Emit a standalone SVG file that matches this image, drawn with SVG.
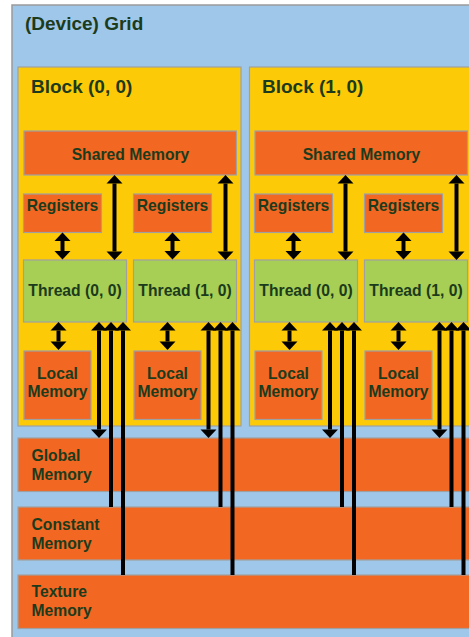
<svg xmlns="http://www.w3.org/2000/svg" width="469" height="637" viewBox="0 0 469 637">
<style>
text{font-family:"Liberation Sans",Arial,sans-serif;font-weight:bold;fill:#1c3b1c}
.t{font-size:19px}
.s{font-size:15.7px}
.m{text-anchor:middle}
.grid{fill:#9fc7e9;stroke:#9a9a9a;stroke-width:1.5}
.blk{fill:#fdca08;stroke:#a0a0a0;stroke-width:1.2}
.mem{fill:#f26722;stroke:#a0a0a0;stroke-width:1.2}
.thr{fill:#a7cf55;stroke:#a0a0a0;stroke-width:1.2}
.a line{stroke:#000;stroke-width:4}
</style>
<defs>
<marker id="ah" markerUnits="userSpaceOnUse" markerWidth="10" markerHeight="18" refX="0" refY="0" orient="auto-start-reverse" overflow="visible">
<path d="M0,-8 L8.5,0 L0,8 z" fill="#000"/>
</marker>
</defs>
<g id="grid"><rect class="grid" x="12" y="5" width="470" height="640"/><text class="t" x="25" y="30">(Device) Grid</text></g>
<g id="block00"><rect class="blk" x="18" y="67" width="223" height="359"/><text class="t" x="31" y="93">Block (0, 0)</text></g>
<g id="block10"><rect class="blk" x="249.5" y="67" width="230" height="359"/><text class="t" x="262" y="93">Block (1, 0)</text></g>
<g id="shared00"><rect class="mem" x="24" y="131" width="212.5" height="44"/><text class="s m" x="130.5" y="159.5">Shared Memory</text></g>
<g id="shared10"><rect class="mem" x="255" y="131" width="212.5" height="44"/><text class="s m" x="361.5" y="159.5">Shared Memory</text></g>
<g id="reg00"><rect class="mem" x="23.5" y="194" width="78" height="38.5"/><text class="s m" x="62.5" y="211">Registers</text></g>
<g id="reg01"><rect class="mem" x="133.5" y="194" width="78" height="38.5"/><text class="s m" x="172.5" y="211">Registers</text></g>
<g id="reg10"><rect class="mem" x="254.5" y="194" width="78" height="38.5"/><text class="s m" x="293.5" y="211">Registers</text></g>
<g id="reg11"><rect class="mem" x="364.5" y="194" width="78" height="38.5"/><text class="s m" x="403.5" y="211">Registers</text></g>
<g id="thread00"><rect class="thr" x="23.5" y="260" width="103" height="62"/><text class="s m" x="75" y="296">Thread (0, 0)</text></g>
<g id="thread01"><rect class="thr" x="133.5" y="260" width="103" height="62"/><text class="s m" x="185" y="296">Thread (1, 0)</text></g>
<g id="thread10"><rect class="thr" x="254.5" y="260" width="103" height="62"/><text class="s m" x="306" y="296">Thread (0, 0)</text></g>
<g id="thread11"><rect class="thr" x="364.5" y="260" width="103" height="62"/><text class="s m" x="416" y="296">Thread (1, 0)</text></g>
<g id="local00"><rect class="mem" x="24" y="351" width="67" height="68.5"/><text class="s m" x="57.5" y="378.5">Local</text><text class="s m" x="57.5" y="397">Memory</text></g>
<g id="local01"><rect class="mem" x="134" y="351" width="67" height="68.5"/><text class="s m" x="167.5" y="378.5">Local</text><text class="s m" x="167.5" y="397">Memory</text></g>
<g id="local10"><rect class="mem" x="255" y="351" width="67" height="68.5"/><text class="s m" x="288.5" y="378.5">Local</text><text class="s m" x="288.5" y="397">Memory</text></g>
<g id="local11"><rect class="mem" x="365" y="351" width="67" height="68.5"/><text class="s m" x="398.5" y="378.5">Local</text><text class="s m" x="398.5" y="397">Memory</text></g>
<g id="global"><rect class="mem" x="18" y="438" width="460" height="53.5"/><text class="s" x="31.5" y="461">Global</text><text class="s" x="31.5" y="480">Memory</text></g>
<g id="constant"><rect class="mem" x="18" y="507" width="460" height="53"/><text class="s" x="31.5" y="530">Constant</text><text class="s" x="31.5" y="549">Memory</text></g>
<g id="texture"><rect class="mem" x="18" y="575" width="460" height="53.5"/><text class="s" x="31.5" y="597">Texture</text><text class="s" x="31.5" y="616">Memory</text></g>
<g id="connectors" class="a">
<line x1="62.5" y1="241" x2="62.5" y2="251" marker-start="url(#ah)" marker-end="url(#ah)"/>
<line x1="172.5" y1="241" x2="172.5" y2="251" marker-start="url(#ah)" marker-end="url(#ah)"/>
<line x1="293.5" y1="241" x2="293.5" y2="251" marker-start="url(#ah)" marker-end="url(#ah)"/>
<line x1="403.5" y1="241" x2="403.5" y2="251" marker-start="url(#ah)" marker-end="url(#ah)"/>
<line x1="114.5" y1="183.5" x2="114.5" y2="251.5" marker-start="url(#ah)" marker-end="url(#ah)"/>
<line x1="225.5" y1="183.5" x2="225.5" y2="251.5" marker-start="url(#ah)" marker-end="url(#ah)"/>
<line x1="345.5" y1="183.5" x2="345.5" y2="251.5" marker-start="url(#ah)" marker-end="url(#ah)"/>
<line x1="456.5" y1="183.5" x2="456.5" y2="251.5" marker-start="url(#ah)" marker-end="url(#ah)"/>
<line x1="58.5" y1="330.5" x2="58.5" y2="341.5" marker-start="url(#ah)" marker-end="url(#ah)"/>
<line x1="167.5" y1="330.5" x2="167.5" y2="341.5" marker-start="url(#ah)" marker-end="url(#ah)"/>
<line x1="289.5" y1="330.5" x2="289.5" y2="341.5" marker-start="url(#ah)" marker-end="url(#ah)"/>
<line x1="398.5" y1="330.5" x2="398.5" y2="341.5" marker-start="url(#ah)" marker-end="url(#ah)"/>
<line x1="99" y1="330.5" x2="99" y2="429.5" marker-start="url(#ah)" marker-end="url(#ah)"/>
<line x1="111" y1="330.5" x2="111" y2="507" marker-start="url(#ah)"/>
<line x1="123" y1="330.5" x2="123" y2="575" marker-start="url(#ah)"/>
<line x1="208.5" y1="330.5" x2="208.5" y2="429.5" marker-start="url(#ah)" marker-end="url(#ah)"/>
<line x1="220.5" y1="330.5" x2="220.5" y2="507" marker-start="url(#ah)"/>
<line x1="232.5" y1="330.5" x2="232.5" y2="575" marker-start="url(#ah)"/>
<line x1="330" y1="330.5" x2="330" y2="429.5" marker-start="url(#ah)" marker-end="url(#ah)"/>
<line x1="342" y1="330.5" x2="342" y2="507" marker-start="url(#ah)"/>
<line x1="354" y1="330.5" x2="354" y2="575" marker-start="url(#ah)"/>
<line x1="439.5" y1="330.5" x2="439.5" y2="429.5" marker-start="url(#ah)" marker-end="url(#ah)"/>
<line x1="451.5" y1="330.5" x2="451.5" y2="507" marker-start="url(#ah)"/>
<line x1="463.5" y1="330.5" x2="463.5" y2="575" marker-start="url(#ah)"/>
</g>
</svg>
